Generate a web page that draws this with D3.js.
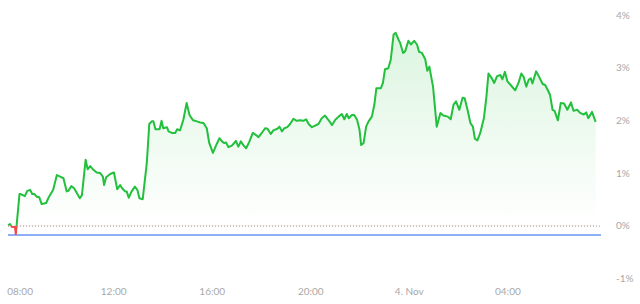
<!DOCTYPE html>
<html>
<head>
<meta charset="utf-8">
<script src="https://cdn.jsdelivr.net/npm/d3@7"></script>
<style>
  body { margin: 0; background: #fff; }
  svg { display: block; font-family: Lato, "Open Sans", sans-serif; }
</style>
</head>
<body>
<div id="chart"></div>
<script>
// minutes since 3 Nov 00:00 and % change at that time
var timeMin = [464, 469, 473, 481, 483, 492, 495, 505, 511, 518, 523, 528, 534, 540, 546, 557, 562, 574, 583, 591,
    599, 607, 611, 618, 625, 633, 639, 644, 653, 658, 664, 672, 680, 688, 695, 698, 703, 713, 722, 730,
    737, 742, 749, 753, 758, 765, 773, 779, 784, 792, 802, 808, 814, 818, 823, 833, 838, 842, 851, 855,
    863, 871, 876, 883, 891, 899, 906, 911, 915, 924, 932, 940, 948, 954, 963, 971, 979, 985, 990, 995,
    1001, 1009, 1015, 1019, 1025, 1031, 1037, 1044, 1052, 1060, 1068, 1074, 1082, 1090, 1096, 1104, 1110, 1120, 1125, 1131,
    1137, 1144, 1151, 1159, 1167, 1175, 1183, 1190, 1196, 1204, 1212, 1220, 1228, 1236, 1244, 1253, 1261, 1269, 1277, 1283,
    1289, 1294, 1301, 1307, 1314, 1320, 1324, 1330, 1336, 1342, 1350, 1356, 1361, 1372, 1377, 1382, 1390, 1396, 1403, 1408,
    1415, 1419, 1426, 1431, 1439, 1445, 1453, 1460, 1465, 1472, 1480, 1485, 1490, 1499, 1508, 1517, 1524, 1535, 1542, 1549,
    1555, 1563, 1571, 1576, 1583, 1590, 1596, 1601, 1607, 1614, 1623, 1629, 1634, 1642, 1648, 1655, 1663, 1668, 1674, 1680,
    1688, 1699, 1707, 1714, 1720, 1726, 1732, 1737, 1741, 1750, 1757, 1766, 1772, 1778, 1784, 1790, 1795, 1803, 1810, 1818,
    1826, 1835, 1841, 1850, 1857, 1866, 1872, 1877, 1886, 1895];
var pct = [0.01, 0.03, -0.02, -0.03, -0.16, 0.60, 0.60, 0.56, 0.66, 0.68, 0.60, 0.60, 0.55, 0.54, 0.41, 0.43, 0.52, 0.68, 0.96, 0.93,
    0.90, 0.65, 0.66, 0.75, 0.71, 0.60, 0.52, 0.58, 1.25, 1.07, 1.13, 1.06, 1.01, 1.00, 0.93, 0.77, 0.92, 0.98, 1.01, 0.69,
    0.77, 0.71, 0.65, 0.65, 0.53, 0.65, 0.74, 0.68, 0.52, 0.50, 1.19, 1.93, 1.98, 1.98, 1.83, 1.83, 1.99, 1.85, 1.87, 1.79,
    1.76, 1.76, 1.83, 1.81, 2.01, 2.33, 2.10, 2.04, 2.00, 1.98, 1.96, 1.95, 1.85, 1.57, 1.38, 1.53, 1.66, 1.60, 1.57, 1.58,
    1.49, 1.52, 1.57, 1.61, 1.50, 1.60, 1.53, 1.47, 1.60, 1.76, 1.72, 1.68, 1.76, 1.85, 1.84, 1.74, 1.81, 1.84, 1.88, 1.79,
    1.85, 1.87, 1.93, 2.03, 1.99, 2.00, 1.99, 2.02, 1.93, 1.87, 1.90, 1.93, 2.04, 2.09, 2.01, 1.91, 2.01, 2.07, 2.12, 2.02,
    2.12, 2.04, 2.10, 2.10, 2.01, 1.82, 1.53, 1.57, 1.88, 1.98, 2.07, 2.29, 2.61, 2.61, 2.71, 2.97, 2.99, 3.15, 3.63, 3.66,
    3.53, 3.47, 3.28, 3.31, 3.51, 3.44, 3.51, 3.44, 3.30, 3.28, 3.16, 2.94, 3.02, 2.64, 1.88, 2.14, 2.09, 2.07, 2.02, 2.30,
    2.36, 2.20, 2.43, 2.42, 2.20, 1.95, 1.88, 1.65, 1.62, 1.76, 2.05, 2.45, 2.89, 2.80, 2.71, 2.84, 2.86, 2.78, 2.92, 2.74,
    2.67, 2.57, 2.71, 2.89, 2.82, 2.64, 2.77, 2.80, 2.70, 2.93, 2.83, 2.69, 2.67, 2.58, 2.48, 2.20, 2.18, 2.00, 2.33, 2.32,
    2.20, 2.34, 2.18, 2.20, 2.14, 2.11, 2.15, 2.04, 2.16, 1.97];
var yTicks = [-1, 0, 1, 2, 3, 4];
var xTickHours = [8, 12, 16, 20, 24, 28];
var baseValue = -0.18;   // solid blue reference line
var sessionStartMin = 464, sessionEndMin = 1908;

var width = 640, height = 304;
var day0 = new Date(2020, 10, 3);
function toDate(m) { return new Date(day0.getTime() + m * 60000); }

var data = timeMin.map(function(m, i) { return {t: toDate(m), v: pct[i]}; });

var svg = d3.select("#chart").append("svg")
    .attr("width", width)
    .attr("height", height);

var xScale = d3.scaleTime()
    .domain([toDate(sessionStartMin), toDate(sessionEndMin)])
    .range([8, 601]);
var yScale = d3.scaleLinear()
    .domain([-1, 4])
    .range([278.3, 15]);

var defs = svg.append("defs");
var grad = defs.append("linearGradient")
    .attr("id", "upGrad")
    .attr("gradientUnits", "userSpaceOnUse")
    .attr("x1", 0).attr("x2", 0)
    .attr("y1", yScale(d3.max(pct))).attr("y2", yScale(0));
grad.append("stop").attr("offset", 0).attr("stop-color", "#22c03c").attr("stop-opacity", 0.16);
grad.append("stop").attr("offset", 1).attr("stop-color", "#22c03c").attr("stop-opacity", 0.0);

defs.append("clipPath").attr("id", "above")
    .append("rect").attr("x", 0).attr("y", 0)
    .attr("width", width).attr("height", yScale(0));
defs.append("clipPath").attr("id", "below")
    .append("rect").attr("x", 0).attr("y", yScale(0))
    .attr("width", width).attr("height", height - yScale(0));

var area = d3.area()
    .x(function(d) { return xScale(d.t); })
    .y0(yScale(0))
    .y1(function(d) { return yScale(d.v); });
var line = d3.line()
    .x(function(d) { return xScale(d.t); })
    .y(function(d) { return yScale(d.v); });

// y axis labels on the right
var yAxis = svg.append("g")
    .attr("transform", "translate(616,0)")
    .call(d3.axisRight(yScale).tickValues(yTicks).tickSize(0).tickPadding(0)
        .tickFormat(function(d) { return d + "%"; }));
yAxis.select(".domain").remove();
yAxis.selectAll("text")
    .attr("fill", "#a8a8a8")
    .style("font-size", "10px")
    .style("font-family", "Lato, sans-serif");

// x axis labels
var xAxis = svg.append("g")
    .attr("transform", "translate(0,288)")
    .call(d3.axisBottom(xScale)
        .tickValues(xTickHours.map(function(h) { return toDate(h * 60); }))
        .tickSize(0).tickPadding(0)
        .tickFormat(function(d) {
            if (d.getHours() === 0) return d3.timeFormat("%-d. %b")(d);
            return d3.timeFormat("%H:%M")(d);
        }));
xAxis.select(".domain").remove();
xAxis.selectAll("text")
    .attr("fill", "#a8a8a8")
    .style("font-size", "10px")
    .style("font-family", "Lato, sans-serif");
// first label is pushed inside the plot edge
xAxis.selectAll("text").filter(function(d, i) { return i === 0; })
    .attr("dx", 5);

// zero line (dotted) and base line (blue)
svg.append("line")
    .attr("x1", xScale.range()[0]).attr("x2", xScale.range()[1])
    .attr("y1", yScale(0) + 0.5).attr("y2", yScale(0) + 0.5)
    .attr("stroke", "#9a9a9a")
    .attr("stroke-width", 1)
    .attr("stroke-dasharray", "1,2");
svg.append("line")
    .attr("x1", xScale.range()[0]).attr("x2", xScale.range()[1])
    .attr("y1", yScale(baseValue)).attr("y2", yScale(baseValue))
    .attr("stroke", "#8eaef5")
    .attr("stroke-width", 2);

// areas
svg.append("path").datum(data)
    .attr("clip-path", "url(#above)")
    .attr("fill", "url(#upGrad)")
    .attr("d", area);
svg.append("path").datum(data)
    .attr("clip-path", "url(#below)")
    .attr("fill", "#f05050")
    .attr("fill-opacity", 0.55)
    .attr("d", area);

// line
svg.append("path").datum(data)
    .attr("clip-path", "url(#above)")
    .attr("fill", "none")
    .attr("stroke", "#22c03c")
    .attr("stroke-width", 2)
    .attr("stroke-linejoin", "round")
    .attr("d", line);
svg.append("path").datum(data)
    .attr("clip-path", "url(#below)")
    .attr("fill", "none")
    .attr("stroke", "#f04848")
    .attr("stroke-width", 2)
    .attr("stroke-linejoin", "round")
    .attr("d", line);
</script>
</body>
</html>
